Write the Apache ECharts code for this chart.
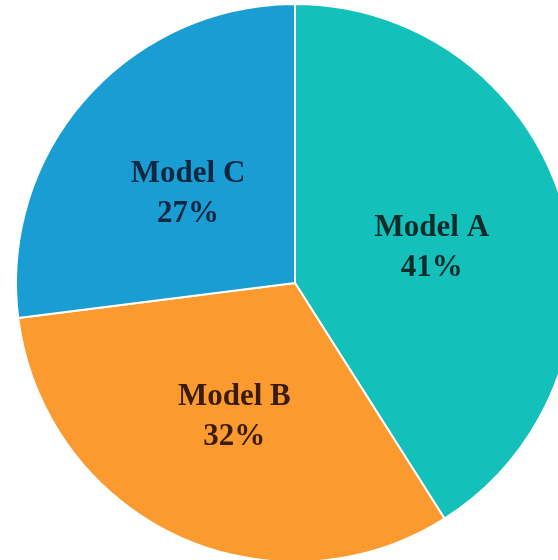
<!DOCTYPE html>
<html>
<head>
<meta charset="utf-8">
<script src="https://cdn.jsdelivr.net/npm/echarts@6/dist/echarts.min.js"></script>
<style>html,body{margin:0;padding:0;background:#fff;}#c{width:558px;height:560px;}</style>
</head>
<body>
<div id="c"></div>
<script>
const categories = ['Model A', 'Model B', 'Model C'];
const values = [41, 32, 27];
const colors = ['#14c1ba', '#fb9a2e', '#1a9dd3'];
const labelColors = ['#0e2b2b', '#3a1c0c', '#0f2741'];

const chart = echarts.init(document.getElementById('c'), null, {renderer: 'canvas'});
chart.setOption({
  animation: false,
  series: [{
    type: 'pie',
    center: [295, 283],
    radius: [0, 279],
    startAngle: 90,
    clockwise: true,
    data: categories.map((n, i) => ({
      name: n, value: values[i],
      itemStyle: {color: colors[i]},
      label: {color: labelColors[i]}
    })),
    itemStyle: {borderColor: '#ffffff', borderWidth: 2},
    label: {
      show: true,
      position: 'inside',
      formatter: p => p.name + '\n' + p.value + '%',
      fontFamily: 'Liberation Serif',
      fontWeight: 'bold',
      fontSize: 31,
      lineHeight: 40,
      align: 'center',
      offset: [0, 5]
    },
    labelLine: {show: false},
    emphasis: {disabled: true}
  }]
});
</script>
</body>
</html>
